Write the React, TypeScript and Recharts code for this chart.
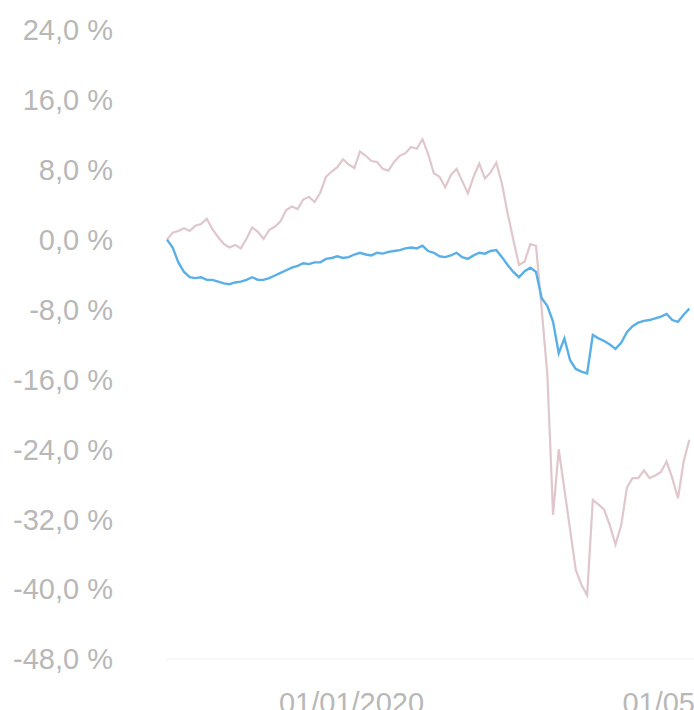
import React from "react";
import { LineChart, Line, XAxis, YAxis } from "recharts";

// categories: first date and spacing of the samples (dd/mm/yyyy)
const startDate = "28/10/2019";
const stepDays = 2;
const domainEnd = "01/05/2020";

// x tick labels
const xTickLabels = ["01/01/2020", "01/05/2020"];

// y ticks (percent)
const yTicks = [-48, -40, -32, -24, -16, -8, 0, 8, 16, 24];

// series values (%)
const seriesPink = [
  0, 0.8, 1.0, 1.3, 1.0, 1.6, 1.8, 2.4, 1.2, 0.3,
  -0.5, -0.9, -0.6, -1.0, 0.1, 1.4, 0.9, 0.1, 1.1, 1.5,
  2.1, 3.4, 3.8, 3.5, 4.6, 4.9, 4.3, 5.4, 7.2, 7.8,
  8.3, 9.2, 8.6, 8.2, 10.1, 9.6, 9.0, 8.9, 8.1, 7.9,
  8.9, 9.6, 9.9, 10.6, 10.4, 11.5, 9.8, 7.6, 7.2, 6.0,
  7.4, 8.1, 6.7, 5.3, 7.2, 8.7, 7.0, 7.7, 8.8, 6.4,
  3.0, 0.0, -2.9, -2.5, -0.5, -0.7, -8.0, -15.5, -31.5, -24.0,
  -28.6, -33.2, -37.8, -39.5, -40.7, -29.8, -30.3, -30.9, -32.7, -34.9,
  -32.7, -28.4, -27.3, -27.3, -26.4, -27.3, -27.0, -26.6, -25.4, -27.3,
  -29.6, -25.4, -22.9,
];

const seriesBlue = [
  0, -0.9, -2.6, -3.7, -4.3, -4.4, -4.3, -4.6, -4.6, -4.8,
  -5.0, -5.1, -4.9, -4.8, -4.6, -4.3, -4.6, -4.6, -4.4, -4.1,
  -3.8, -3.5, -3.2, -3.0, -2.7, -2.8, -2.6, -2.6, -2.2, -2.1,
  -1.9, -2.1, -2.0, -1.7, -1.5, -1.7, -1.8, -1.5, -1.6, -1.4,
  -1.3, -1.2, -1.0, -0.9, -1.0, -0.7, -1.3, -1.5, -1.9, -2.0,
  -1.8, -1.5, -2.0, -2.2, -1.8, -1.5, -1.6, -1.3, -1.2, -2.0,
  -2.9, -3.7, -4.3, -3.6, -3.2, -3.7, -6.7, -7.6, -9.4, -13.0,
  -11.3, -13.8, -14.8, -15.1, -15.3, -10.9, -11.3, -11.6, -12.0, -12.5,
  -11.8, -10.6, -9.9, -9.5, -9.3, -9.2, -9.0, -8.8, -8.5, -9.2,
  -9.4, -8.6, -7.9,
];

function parseDMY(s: string): number {
  const [d, m, y] = s.split("/").map(Number);
  return Date.UTC(y, m - 1, d) / 86400000;
}

const t0 = parseDMY(startDate);
const data = seriesPink.map((v, i) => ({
  t: t0 + i * stepDays,
  pink: v,
  blue: seriesBlue[i],
}));

const xTicks = xTickLabels.map(parseDMY);
const xLabelOf = (t: number) => {
  const idx = xTicks.indexOf(t);
  return idx >= 0 ? xTickLabels[idx] : "";
};
const yFmt = (v: number) => v.toFixed(1).replace(".", ",") + " %";

const FONT = "'Liberation Sans', Arial, sans-serif";

export default function App() {
  return (
    <div
      style={{
        position: "fixed",
        left: 0,
        top: 0,
        width: 694,
        height: 710,
        overflow: "hidden",
        background: "#ffffff",
      }}
    >
      <LineChart
        width={780}
        height={740}
        data={data}
        margin={{ top: 30, right: 85, bottom: 0, left: 0 }}
      >
        <XAxis
          dataKey="t"
          type="number"
          domain={[t0, parseDMY(domainEnd)]}
          ticks={xTicks}
          tickFormatter={xLabelOf}
          interval={0}
          tickLine={false}
          tickSize={0}
          tickMargin={33}
          height={81}
          axisLine={{ stroke: "#efefef" }}
          tick={{ fill: "#b8b8b8", fontSize: 29, fontFamily: FONT }}
        />
        <YAxis
          type="number"
          domain={[-48, 24]}
          ticks={yTicks}
          tickFormatter={yFmt}
          interval={0}
          width={167}
          axisLine={false}
          tickLine={false}
          tickSize={0}
          tickMargin={54}
          tick={{ fill: "#b8b8b8", fontSize: 29, fontFamily: FONT }}
        />
        <Line
          type="linear"
          dataKey="pink"
          stroke="#dfc7cb"
          strokeWidth={2.2}
          dot={false}
          isAnimationActive={false}
        />
        <Line
          type="linear"
          dataKey="blue"
          stroke="#5aafe6"
          strokeWidth={2.4}
          dot={false}
          isAnimationActive={false}
        />
      </LineChart>
    </div>
  );
}
